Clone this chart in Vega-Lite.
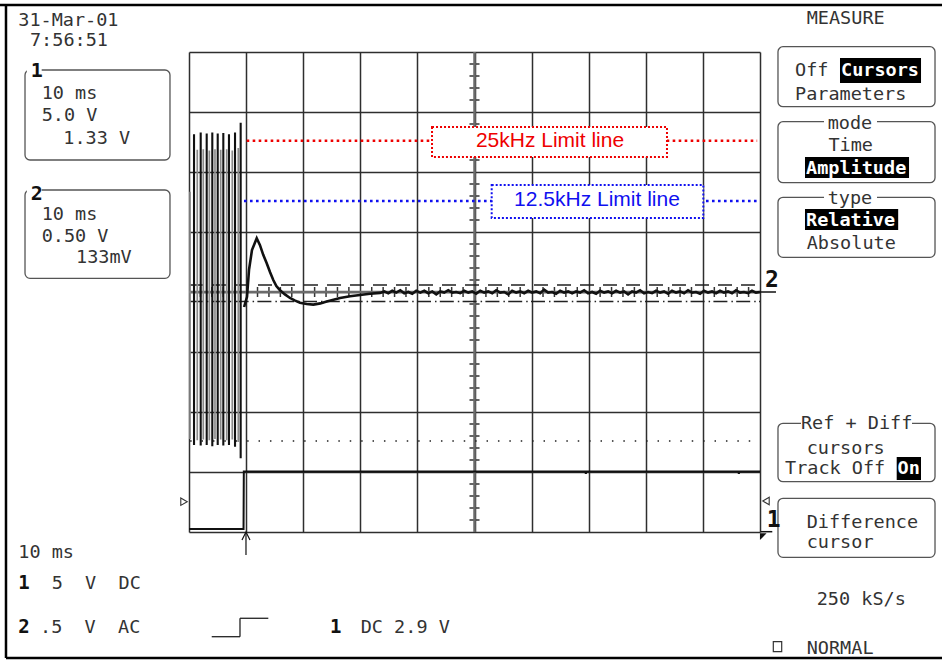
{
"$schema": "https://vega.github.io/schema/vega-lite/v6.json",
"width": 571, "height": 480,
"autosize": {"type": "none"},
"padding": {"left": 189, "top": 52, "right": 182, "bottom": 129},
"background": "white",
"config": {"view": {"stroke": null}},
"layer": [
{"data":{"values":[{"v":-3.8},{"v":-3.6},{"v":-3.4},{"v":-3.2},{"v":-2.8},{"v":-2.6},{"v":-2.4},{"v":-2.2},{"v":-1.8},{"v":-1.6},{"v":-1.4},{"v":-1.2},{"v":-0.8},{"v":-0.6},{"v":-0.4},{"v":-0.2},{"v":0.2},{"v":0.4},{"v":0.6},{"v":0.8},{"v":1.2},{"v":1.4},{"v":1.6},{"v":1.8},{"v":2.2},{"v":2.4},{"v":2.6},{"v":2.8},{"v":3.2},{"v":3.4},{"v":3.6},{"v":3.8}]},
 "mark":{"type":"rule","color":"#333","strokeWidth":1.5},
 "encoding":{"y":{"field":"v","type":"quantitative","scale":{"domain":[-4,4],"nice":false,"zero":false},"axis":{"grid":true,"values":[-4,-3,-2,-1,0,1,2,3,4],"gridColor":"#2e2e2e","gridWidth":1.5,"gridOpacity":1,"labels":false,"ticks":false,"domain":false,"title":null}},"x":{"datum":4.912},"x2":{"datum":5.088}}},
{"data":{"values":[{"t":0.2},{"t":0.4},{"t":0.6},{"t":0.8},{"t":1.2},{"t":1.4},{"t":1.6},{"t":1.8},{"t":2.2},{"t":2.4},{"t":2.6},{"t":2.8},{"t":3.2},{"t":3.4},{"t":3.6},{"t":3.8},{"t":4.2},{"t":4.4},{"t":4.6},{"t":4.8},{"t":5.2},{"t":5.4},{"t":5.6},{"t":5.8},{"t":6.2},{"t":6.4},{"t":6.6},{"t":6.8},{"t":7.2},{"t":7.4},{"t":7.6},{"t":7.8},{"t":8.2},{"t":8.4},{"t":8.6},{"t":8.8},{"t":9.2},{"t":9.4},{"t":9.6},{"t":9.8}]},
 "mark":{"type":"rule","color":"#333","strokeWidth":1.5},
 "encoding":{"x":{"field":"t","type":"quantitative","scale":{"domain":[0,10],"nice":false,"zero":false},"axis":{"grid":true,"values":[0,1,2,3,4,5,6,7,8,9,10],"gridColor":"#2e2e2e","gridWidth":1.5,"gridOpacity":1,"labels":false,"ticks":false,"domain":false,"title":null}},"y":{"datum":-0.083},"y2":{"datum":0.083}}},
{"data":{"values":[{}]},"mark":{"type":"rule","color":"#6b6b6b","strokeWidth":2.5},"encoding":{"x":{"datum":5},"y":{"datum":-4},"y2":{"datum":4}}},
{"data":{"values":[{}]},"mark":{"type":"rule","color":"#6b6b6b","strokeWidth":2.5},"encoding":{"x":{"datum":0},"x2":{"datum":10},"y":{"datum":0}}},
{"data":{"values":[{}]},"mark":{"type":"rule","color":"#222","strokeWidth":1.5,"strokeDash":[1.5,9.9]},"encoding":{"x":{"datum":0.02},"x2":{"datum":9.92},"y":{"datum":-2.483}}},
{"data":{"values":[{}]},"mark":{"type":"rule","color":"#222","strokeWidth":1.3,"strokeDash":[14,9]},"encoding":{"x":{"datum":0},"x2":{"datum":10},"y":{"datum":0.117}}},
{"data":{"values":[{}]},"mark":{"type":"rule","color":"#222","strokeWidth":1.3,"strokeDash":[14,4,1.5,3.3]},"encoding":{"x":{"datum":0},"x2":{"datum":10},"y":{"datum":-0.158}}},
{"data":{"values":[{}]},"mark":{"type":"rule","color":"#ee0000","strokeWidth":2.6,"strokeDash":[2.6,3.4]},"encoding":{"x":{"datum":1.01},"x2":{"datum":9.95},"y":{"datum":2.522}}},
{"data":{"values":[{}]},"mark":{"type":"rule","color":"#1010f0","strokeWidth":2.6,"strokeDash":[2.6,3.4]},"encoding":{"x":{"datum":0.963},"x2":{"datum":9.95},"y":{"datum":1.517}}},
{"data":{"values":[{}]},"mark":{"type":"rect","fill":"white","stroke":"#ee0000","strokeWidth":2,"strokeDash":[2,2]},"encoding":{"x":{"datum":4.256},"x2":{"datum":8.371},"y":{"datum":2.75},"y2":{"datum":2.25}}},
{"data":{"values":[{}]},"mark":{"type":"rect","fill":"white","stroke":"#1010f0","strokeWidth":2,"strokeDash":[2,2]},"encoding":{"x":{"datum":5.301},"x2":{"datum":9.007},"y":{"datum":1.783},"y2":{"datum":1.233}}},
{"data":{"values":[{}]},"mark":{"type":"text","text":"25kHz Limit line","font":"Liberation Sans","fontSize":21,"align":"center","baseline":"middle","color":"#ee0000"},"encoding":{"x":{"datum":6.322},"y":{"datum":2.517}}},
{"data":{"values":[{}]},"mark":{"type":"text","text":"12.5kHz Limit line","font":"Liberation Sans","fontSize":21,"align":"center","baseline":"middle","color":"#1010f0"},"encoding":{"x":{"datum":7.145},"y":{"datum":1.533}}},
{"data":{"values":[{"t":0.018,"lo":-2.45,"hi":1.67},{"t":0.145,"lo":-2.47,"hi":2.37},{"t":0.25,"lo":-2.46,"hi":2.38},{"t":0.356,"lo":-2.47,"hi":2.36},{"t":0.455,"lo":-2.45,"hi":2.38},{"t":0.555,"lo":-2.46,"hi":2.37},{"t":0.66,"lo":-2.47,"hi":2.38},{"t":0.758,"lo":-2.46,"hi":2.36},{"t":0.863,"lo":-2.5,"hi":2.4}]},
 "mark":{"type":"rule","color":"#8a8a8a","strokeWidth":1.7},"encoding":{"x":{"field":"t","type":"quantitative"},"y":{"field":"lo","type":"quantitative"},"y2":{"field":"hi"}}},
{"data":{"values":[{"t":0.088,"lo":-2.55,"hi":2.63},{"t":0.205,"lo":-2.56,"hi":2.66},{"t":0.31,"lo":-2.55,"hi":2.64},{"t":0.408,"lo":-2.57,"hi":2.66},{"t":0.503,"lo":-2.55,"hi":2.64},{"t":0.601,"lo":-2.56,"hi":2.65},{"t":0.70,"lo":-2.55,"hi":2.63},{"t":0.806,"lo":-2.58,"hi":2.66},{"t":0.905,"lo":-2.77,"hi":2.82}]},
 "mark":{"type":"rule","color":"#111","strokeWidth":2.1},"encoding":{"x":{"field":"t","type":"quantitative"},"y":{"field":"lo","type":"quantitative"},"y2":{"field":"hi"}}},
{"data":{"values":[{"t":0,"v":-3.95},{"t":0.955,"v":-3.95},{"t":0.96,"v":-2.99},{"t":6.94,"v":-2.99},{"t":6.95,"v":-3.03},{"t":6.96,"v":-2.99},{"t":9.62,"v":-2.99},{"t":9.63,"v":-3.03},{"t":9.64,"v":-2.99},{"t":10,"v":-2.99}]},
 "mark":{"type":"line","color":"#111","strokeWidth":2},"encoding":{"x":{"field":"t","type":"quantitative"},"y":{"field":"v","type":"quantitative"}}},
{"data":{"values":[{"t":0.965,"v":-0.25},{"t":1.016,"v":-0.08},{"t":1.051,"v":0.37},{"t":1.103,"v":0.70},{"t":1.186,"v":0.895},{"t":1.243,"v":0.78},{"t":1.30,"v":0.62},{"t":1.361,"v":0.48},{"t":1.42,"v":0.33},{"t":1.476,"v":0.20},{"t":1.53,"v":0.10},{"t":1.594,"v":0.03},{"t":1.68,"v":-0.04},{"t":1.769,"v":-0.10},{"t":1.85,"v":-0.14},{"t":1.944,"v":-0.18},{"t":2.06,"v":-0.20},{"t":2.177,"v":-0.21},{"t":2.30,"v":-0.19},{"t":2.412,"v":-0.16},{"t":2.53,"v":-0.13},{"t":2.645,"v":-0.10},{"t":2.82,"v":-0.07},{"t":2.995,"v":-0.05},{"t":3.17,"v":-0.03},{"t":3.345,"v":-0.015},
{"t":3.42,"v":0.01},{"t":3.49,"v":-0.02},{"t":3.56,"v":0.02},{"t":3.63,"v":-0.01},{"t":3.70,"v":0.03},{"t":3.77,"v":-0.02},{"t":3.84,"v":0.0},{"t":3.91,"v":-0.03},{"t":3.98,"v":0.02},{"t":4.05,"v":-0.01},{"t":4.12,"v":0.02},{"t":4.19,"v":-0.02},{"t":4.26,"v":0.01},{"t":4.33,"v":-0.04},{"t":4.40,"v":0.01},{"t":4.47,"v":-0.01},{"t":4.54,"v":0.03},{"t":4.61,"v":-0.01},{"t":4.68,"v":0.0},{"t":4.75,"v":-0.02},{"t":4.82,"v":0.02},{"t":4.89,"v":-0.01},{"t":4.96,"v":0.01},{"t":5.03,"v":-0.03},{"t":5.10,"v":0.02},{"t":5.17,"v":-0.01},{"t":5.24,"v":0.01},{"t":5.31,"v":-0.02},{"t":5.38,"v":0.03},{"t":5.45,"v":-0.01},{"t":5.52,"v":0.0},{"t":5.59,"v":-0.04},{"t":5.66,"v":0.02},{"t":5.73,"v":-0.01},{"t":5.80,"v":0.01},{"t":5.87,"v":-0.02},{"t":5.94,"v":0.02},{"t":6.01,"v":-0.01},{"t":6.08,"v":0.01},{"t":6.15,"v":-0.02},{"t":6.22,"v":0.04},{"t":6.29,"v":-0.01},{"t":6.36,"v":0.0},{"t":6.43,"v":-0.03},{"t":6.50,"v":0.02},{"t":6.57,"v":-0.01},{"t":6.64,"v":0.01},{"t":6.71,"v":-0.02},{"t":6.78,"v":0.01},{"t":6.85,"v":-0.01},{"t":6.92,"v":0.03},{"t":6.99,"v":-0.02},{"t":7.06,"v":0.0},{"t":7.13,"v":-0.03},{"t":7.20,"v":0.02},{"t":7.27,"v":-0.01},{"t":7.34,"v":0.01},{"t":7.41,"v":-0.02},{"t":7.48,"v":0.02},{"t":7.55,"v":-0.01},{"t":7.62,"v":0.01},{"t":7.69,"v":-0.04},{"t":7.76,"v":0.01},{"t":7.83,"v":-0.01},{"t":7.90,"v":0.03},{"t":7.97,"v":-0.02},{"t":8.04,"v":0.0},{"t":8.11,"v":-0.02},{"t":8.18,"v":0.02},{"t":8.25,"v":-0.01},{"t":8.32,"v":0.01},{"t":8.39,"v":-0.03},{"t":8.46,"v":0.02},{"t":8.53,"v":-0.01},{"t":8.60,"v":0.01},{"t":8.67,"v":-0.02},{"t":8.74,"v":0.03},{"t":8.81,"v":-0.01},{"t":8.88,"v":0.0},{"t":8.95,"v":-0.03},{"t":9.02,"v":0.02},{"t":9.09,"v":-0.01},{"t":9.16,"v":0.01},{"t":9.23,"v":-0.02},{"t":9.30,"v":0.02},{"t":9.37,"v":-0.01},{"t":9.44,"v":0.01},{"t":9.51,"v":-0.02},{"t":9.58,"v":0.03},{"t":9.65,"v":-0.01},{"t":9.72,"v":0.0},{"t":9.79,"v":-0.02},{"t":9.86,"v":0.02},{"t":9.93,"v":-0.01},{"t":10.0,"v":0.0}]},
 "mark":{"type":"line","color":"#111","strokeWidth":2.6},"encoding":{"x":{"field":"t","type":"quantitative"},"y":{"field":"v","type":"quantitative"}}},

{"data":{"values":[{}]},"mark":{"type":"rule","color":"#000","strokeWidth":2.5},"encoding":{"x":{"datum":-3.31},"x2":{"datum":13.19},"y":{"datum":4.783}}},
{"data":{"values":[{}]},"mark":{"type":"rule","color":"#000","strokeWidth":2.5},"encoding":{"x":{"datum":-3.205},"y":{"datum":4.783},"y2":{"datum":-6.1}}},
{"data":{"values":[{}]},"mark":{"type":"rule","color":"#000","strokeWidth":2.5},"encoding":{"x":{"datum":-3.205},"x2":{"datum":13.19},"y":{"datum":-6.1}}},

{"data":{"values":[{}]},"mark":{"type":"rect","fill":"transparent","stroke":"#555","strokeWidth":1.3,"cornerRadius":5},"encoding":{"x":{"datum":-2.872},"x2":{"datum":-0.333},"y":{"datum":3.7},"y2":{"datum":2.2}}},
{"data":{"values":[{}]},"mark":{"type":"rect","fill":"transparent","stroke":"#555","strokeWidth":1.3,"cornerRadius":5},"encoding":{"x":{"datum":-2.872},"x2":{"datum":-0.333},"y":{"datum":1.7},"y2":{"datum":0.228}}},
{"data":{"values":[{}]},"mark":{"type":"rect","fill":"white"},"encoding":{"x":{"datum":-2.84},"x2":{"datum":-2.58},"y":{"datum":3.8},"y2":{"datum":3.55}}},
{"data":{"values":[{}]},"mark":{"type":"rect","fill":"white"},"encoding":{"x":{"datum":-2.84},"x2":{"datum":-2.58},"y":{"datum":1.75},"y2":{"datum":1.5}}},
{"data":{"values":[{}]},"mark":{"type":"rect","fill":"transparent","stroke":"#555","strokeWidth":1.3,"cornerRadius":5},"encoding":{"x":{"datum":10.315},"x2":{"datum":13.065},"y":{"datum":4.088},"y2":{"datum":3.088}}},
{"data":{"values":[{}]},"mark":{"type":"rect","fill":"transparent","stroke":"#555","strokeWidth":1.3,"cornerRadius":5},"encoding":{"x":{"datum":10.315},"x2":{"datum":13.065},"y":{"datum":2.838},"y2":{"datum":1.822}}},
{"data":{"values":[{}]},"mark":{"type":"rect","fill":"transparent","stroke":"#555","strokeWidth":1.3,"cornerRadius":5},"encoding":{"x":{"datum":10.315},"x2":{"datum":13.065},"y":{"datum":1.578},"y2":{"datum":0.578}}},
{"data":{"values":[{}]},"mark":{"type":"rect","fill":"transparent","stroke":"#555","strokeWidth":1.3,"cornerRadius":5},"encoding":{"x":{"datum":10.315},"x2":{"datum":13.065},"y":{"datum":-2.188},"y2":{"datum":-3.162}}},
{"data":{"values":[{}]},"mark":{"type":"rect","fill":"transparent","stroke":"#555","strokeWidth":1.3,"cornerRadius":5},"encoding":{"x":{"datum":10.315},"x2":{"datum":13.065},"y":{"datum":-3.438},"y2":{"datum":-4.422}}},
{"data":{"values":[{}]},"mark":{"type":"rect","fill":"white"},"encoding":{"x":{"datum":11.121},"x2":{"datum":12.049},"y":{"datum":2.93},"y2":{"datum":2.73}}},
{"data":{"values":[{}]},"mark":{"type":"rect","fill":"white"},"encoding":{"x":{"datum":11.121},"x2":{"datum":12.049},"y":{"datum":1.68},"y2":{"datum":1.48}}},
{"data":{"values":[{}]},"mark":{"type":"rect","fill":"white"},"encoding":{"x":{"datum":10.718},"x2":{"datum":12.662},"y":{"datum":-2.08},"y2":{"datum":-2.3}}},
{"data":{"values":[{}]},"mark":{"type":"rect","fill":"black"},"encoding":{"x":{"datum":11.401},"x2":{"datum":12.82},"y":{"datum":3.9},"y2":{"datum":3.483}}},
{"data":{"values":[{}]},"mark":{"type":"rect","fill":"black"},"encoding":{"x":{"datum":10.788},"x2":{"datum":12.61},"y":{"datum":2.25},"y2":{"datum":1.9}}},
{"data":{"values":[{}]},"mark":{"type":"rect","fill":"black"},"encoding":{"x":{"datum":10.788},"x2":{"datum":12.42},"y":{"datum":1.383},"y2":{"datum":1.033}}},
{"data":{"values":[{}]},"mark":{"type":"rect","fill":"black"},"encoding":{"x":{"datum":12.394},"x2":{"datum":12.82},"y":{"datum":-2.75},"y2":{"datum":-3.133}}},
{"data":{"values":[{}]},"mark":{"type":"rect","fill":"transparent","stroke":"#333","strokeWidth":1.2},"encoding":{"x":{"datum":10.233},"x2":{"datum":10.38},"y":{"datum":-5.828},"y2":{"datum":-5.995}}},

{"data":{"values":[{}]},"mark":{"type":"text","text":"31-Mar-01","font":"DejaVu Sans Mono","fontSize":18.5,"align":"left","baseline":"middle","color":"#333"},"encoding":{"x":{"datum":-2.99},"y":{"datum":4.53}}},
{"data":{"values":[{}]},"mark":{"type":"text","text":"7:56:51","font":"DejaVu Sans Mono","fontSize":18.5,"align":"left","baseline":"middle","color":"#333"},"encoding":{"x":{"datum":-2.785},"y":{"datum":4.2}}},
{"data":{"values":[{}]},"mark":{"type":"text","text":"10 ms","font":"DejaVu Sans Mono","fontSize":18.5,"align":"left","baseline":"middle","color":"#333"},"encoding":{"x":{"datum":-2.58},"y":{"datum":3.317}}},
{"data":{"values":[{}]},"mark":{"type":"text","text":"5.0 V","font":"DejaVu Sans Mono","fontSize":18.5,"align":"left","baseline":"middle","color":"#333"},"encoding":{"x":{"datum":-2.58},"y":{"datum":2.95}}},
{"data":{"values":[{}]},"mark":{"type":"text","text":"1.33 V","font":"DejaVu Sans Mono","fontSize":18.5,"align":"left","baseline":"middle","color":"#333"},"encoding":{"x":{"datum":-2.201},"y":{"datum":2.575}}},
{"data":{"values":[{}]},"mark":{"type":"text","text":"10 ms","font":"DejaVu Sans Mono","fontSize":18.5,"align":"left","baseline":"middle","color":"#333"},"encoding":{"x":{"datum":-2.58},"y":{"datum":1.3}}},
{"data":{"values":[{}]},"mark":{"type":"text","text":"0.50 V","font":"DejaVu Sans Mono","fontSize":18.5,"align":"left","baseline":"middle","color":"#333"},"encoding":{"x":{"datum":-2.58},"y":{"datum":0.933}}},
{"data":{"values":[{}]},"mark":{"type":"text","text":"133mV","font":"DejaVu Sans Mono","fontSize":18.5,"align":"left","baseline":"middle","color":"#333"},"encoding":{"x":{"datum":-1.979},"y":{"datum":0.588}}},
{"data":{"values":[{}]},"mark":{"type":"text","text":"1","font":"DejaVu Sans Mono","fontSize":20,"fontWeight":"bold","align":"left","baseline":"middle","color":"#111"},"encoding":{"x":{"datum":-2.772},"y":{"datum":3.68}}},
{"data":{"values":[{}]},"mark":{"type":"text","text":"2","font":"DejaVu Sans Mono","fontSize":20,"fontWeight":"bold","align":"left","baseline":"middle","color":"#111"},"encoding":{"x":{"datum":-2.772},"y":{"datum":1.63}}},

{"data":{"values":[{}]},"mark":{"type":"text","text":"10 ms","font":"DejaVu Sans Mono","fontSize":18.5,"align":"left","baseline":"middle","color":"#333"},"encoding":{"x":{"datum":-2.99},"y":{"datum":-4.328}}},
{"data":{"values":[{}]},"mark":{"type":"text","text":"1","font":"DejaVu Sans Mono","fontSize":19,"fontWeight":"bold","align":"left","baseline":"middle","color":"#111"},"encoding":{"x":{"datum":-2.99},"y":{"datum":-4.855}}},
{"data":{"values":[{}]},"mark":{"type":"text","text":"5\u00a0\u00a0V\u00a0\u00a0DC","font":"DejaVu Sans Mono","fontSize":18.5,"align":"left","baseline":"middle","color":"#333"},"encoding":{"x":{"datum":-2.405},"y":{"datum":-4.855}}},
{"data":{"values":[{}]},"mark":{"type":"text","text":"2","font":"DejaVu Sans Mono","fontSize":19,"fontWeight":"bold","align":"left","baseline":"middle","color":"#111"},"encoding":{"x":{"datum":-2.99},"y":{"datum":-5.578}}},
{"data":{"values":[{}]},"mark":{"type":"text","text":".5\u00a0\u00a0V\u00a0\u00a0AC","font":"DejaVu Sans Mono","fontSize":18.5,"align":"left","baseline":"middle","color":"#333"},"encoding":{"x":{"datum":-2.609},"y":{"datum":-5.578}}},
{"data":{"values":[{}]},"mark":{"type":"text","text":"1","font":"DejaVu Sans Mono","fontSize":19,"fontWeight":"bold","align":"left","baseline":"middle","color":"#111"},"encoding":{"x":{"datum":2.469},"y":{"datum":-5.578}}},
{"data":{"values":[{}]},"mark":{"type":"text","text":"DC 2.9 V","font":"DejaVu Sans Mono","fontSize":18.5,"align":"left","baseline":"middle","color":"#333"},"encoding":{"x":{"datum":3.007},"y":{"datum":-5.578}}},
{"data":{"values":[{}]},"mark":{"type":"rule","color":"#222","strokeWidth":1.3},"encoding":{"x":{"datum":0.398},"x2":{"datum":0.893},"y":{"datum":-5.745}}},
{"data":{"values":[{}]},"mark":{"type":"rule","color":"#222","strokeWidth":1.3},"encoding":{"x":{"datum":0.893},"y":{"datum":-5.745},"y2":{"datum":-5.438}}},
{"data":{"values":[{}]},"mark":{"type":"rule","color":"#222","strokeWidth":1.3},"encoding":{"x":{"datum":0.893},"x2":{"datum":1.389},"y":{"datum":-5.438}}},
{"data":{"values":[{}]},"mark":{"type":"rule","color":"#111","strokeWidth":1.2},"encoding":{"x":{"datum":0.998},"y":{"datum":-4.017},"y2":{"datum":-4.383}}},
{"data":{"values":[{}]},"mark":{"type":"point","shape":"M-1,1L0,-1L1,1","size":64,"filled":false,"color":"#111","strokeWidth":1.2,"opacity":1},"encoding":{"x":{"datum":0.998},"y":{"datum":-4.067}}},
{"data":{"values":[{}]},"mark":{"type":"point","shape":"triangle-right","size":55,"filled":false,"color":"#333","strokeWidth":1.1,"opacity":1},"encoding":{"x":{"datum":-0.0876},"y":{"datum":-3.495}}},

{"data":{"values":[{}]},"mark":{"type":"text","text":"MEASURE","font":"DejaVu Sans Mono","fontSize":18.5,"align":"left","baseline":"middle","color":"#333"},"encoding":{"x":{"datum":10.818},"y":{"datum":4.57}}},
{"data":{"values":[{}]},"mark":{"type":"text","text":"Off","font":"DejaVu Sans Mono","fontSize":18.5,"align":"left","baseline":"middle","color":"#333"},"encoding":{"x":{"datum":10.613},"y":{"datum":3.692}}},
{"data":{"values":[{}]},"mark":{"type":"text","text":"Cursors","font":"DejaVu Sans Mono","fontSize":18.5,"fontWeight":"bold","align":"left","baseline":"middle","color":"white"},"encoding":{"x":{"datum":11.419},"y":{"datum":3.692}}},
{"data":{"values":[{}]},"mark":{"type":"text","text":"Parameters","font":"DejaVu Sans Mono","fontSize":18.5,"align":"left","baseline":"middle","color":"#333"},"encoding":{"x":{"datum":10.613},"y":{"datum":3.308}}},
{"data":{"values":[{}]},"mark":{"type":"text","text":"mode","font":"DejaVu Sans Mono","fontSize":18.5,"align":"center","baseline":"middle","color":"#333"},"encoding":{"x":{"datum":11.576},"y":{"datum":2.825}}},
{"data":{"values":[{}]},"mark":{"type":"text","text":"Time","font":"DejaVu Sans Mono","fontSize":18.5,"align":"center","baseline":"middle","color":"#333"},"encoding":{"x":{"datum":11.588},"y":{"datum":2.442}}},
{"data":{"values":[{}]},"mark":{"type":"text","text":"Amplitude","font":"DejaVu Sans Mono","fontSize":18.5,"fontWeight":"bold","align":"left","baseline":"middle","color":"white"},"encoding":{"x":{"datum":10.806},"y":{"datum":2.075}}},
{"data":{"values":[{}]},"mark":{"type":"text","text":"type","font":"DejaVu Sans Mono","fontSize":18.5,"align":"center","baseline":"middle","color":"#333"},"encoding":{"x":{"datum":11.576},"y":{"datum":1.567}}},
{"data":{"values":[{}]},"mark":{"type":"text","text":"Relative","font":"DejaVu Sans Mono","fontSize":18.5,"fontWeight":"bold","align":"left","baseline":"middle","color":"white"},"encoding":{"x":{"datum":10.806},"y":{"datum":1.205}}},
{"data":{"values":[{}]},"mark":{"type":"text","text":"Absolute","font":"DejaVu Sans Mono","fontSize":18.5,"align":"left","baseline":"middle","color":"#333"},"encoding":{"x":{"datum":10.818},"y":{"datum":0.812}}},
{"data":{"values":[{}]},"mark":{"type":"text","text":"Ref + Diff","font":"DejaVu Sans Mono","fontSize":18.5,"align":"center","baseline":"middle","color":"#333"},"encoding":{"x":{"datum":11.693},"y":{"datum":-2.188}}},
{"data":{"values":[{}]},"mark":{"type":"text","text":"cursors","font":"DejaVu Sans Mono","fontSize":18.5,"align":"left","baseline":"middle","color":"#333"},"encoding":{"x":{"datum":10.818},"y":{"datum":-2.592}}},
{"data":{"values":[{}]},"mark":{"type":"text","text":"Track Off","font":"DejaVu Sans Mono","fontSize":18.5,"align":"left","baseline":"middle","color":"#333"},"encoding":{"x":{"datum":10.438},"y":{"datum":-2.938}}},
{"data":{"values":[{}]},"mark":{"type":"text","text":"On","font":"DejaVu Sans Mono","fontSize":18.5,"fontWeight":"bold","align":"left","baseline":"middle","color":"white"},"encoding":{"x":{"datum":12.408},"y":{"datum":-2.938}}},
{"data":{"values":[{}]},"mark":{"type":"text","text":"Difference","font":"DejaVu Sans Mono","fontSize":18.5,"align":"left","baseline":"middle","color":"#333"},"encoding":{"x":{"datum":10.818},"y":{"datum":-3.828}}},
{"data":{"values":[{}]},"mark":{"type":"text","text":"cursor","font":"DejaVu Sans Mono","fontSize":18.5,"align":"left","baseline":"middle","color":"#333"},"encoding":{"x":{"datum":10.818},"y":{"datum":-4.162}}},
{"data":{"values":[{}]},"mark":{"type":"text","text":"250 kS/s","font":"DejaVu Sans Mono","fontSize":18.5,"align":"left","baseline":"middle","color":"#333"},"encoding":{"x":{"datum":10.993},"y":{"datum":-5.117}}},
{"data":{"values":[{}]},"mark":{"type":"text","text":"NORMAL","font":"DejaVu Sans Mono","fontSize":18.5,"align":"left","baseline":"middle","color":"#333"},"encoding":{"x":{"datum":10.818},"y":{"datum":-5.938}}},
{"data":{"values":[{}]},"mark":{"type":"text","text":"2","font":"DejaVu Sans Mono","fontSize":23,"fontWeight":"bold","align":"left","baseline":"middle","color":"#111"},"encoding":{"x":{"datum":10.088},"y":{"datum":0.2}}},
{"data":{"values":[{}]},"mark":{"type":"rule","color":"#111","strokeWidth":1.5},"encoding":{"x":{"datum":10},"x2":{"datum":10.28},"y":{"datum":0.0}}},
{"data":{"values":[{}]},"mark":{"type":"text","text":"1","font":"DejaVu Sans Mono","fontSize":23,"fontWeight":"bold","align":"left","baseline":"middle","color":"#111"},"encoding":{"x":{"datum":10.117},"y":{"datum":-3.8}}},
{"data":{"values":[{}]},"mark":{"type":"rule","color":"#111","strokeWidth":1.5},"encoding":{"x":{"datum":10.012},"x2":{"datum":10.215},"y":{"datum":-3.995}}},
{"data":{"values":[{}]},"mark":{"type":"point","shape":"triangle-left","size":55,"filled":false,"color":"#333","strokeWidth":1.1,"opacity":1},"encoding":{"x":{"datum":10.105},"y":{"datum":-3.483}}},
{"data":{"values":[{}]},"mark":{"type":"point","shape":"M-1,-1L1,-1L-1,1Z","size":44,"filled":true,"color":"#111","opacity":1},"encoding":{"x":{"datum":10.057},"y":{"datum":-4.078}}}
]
}
